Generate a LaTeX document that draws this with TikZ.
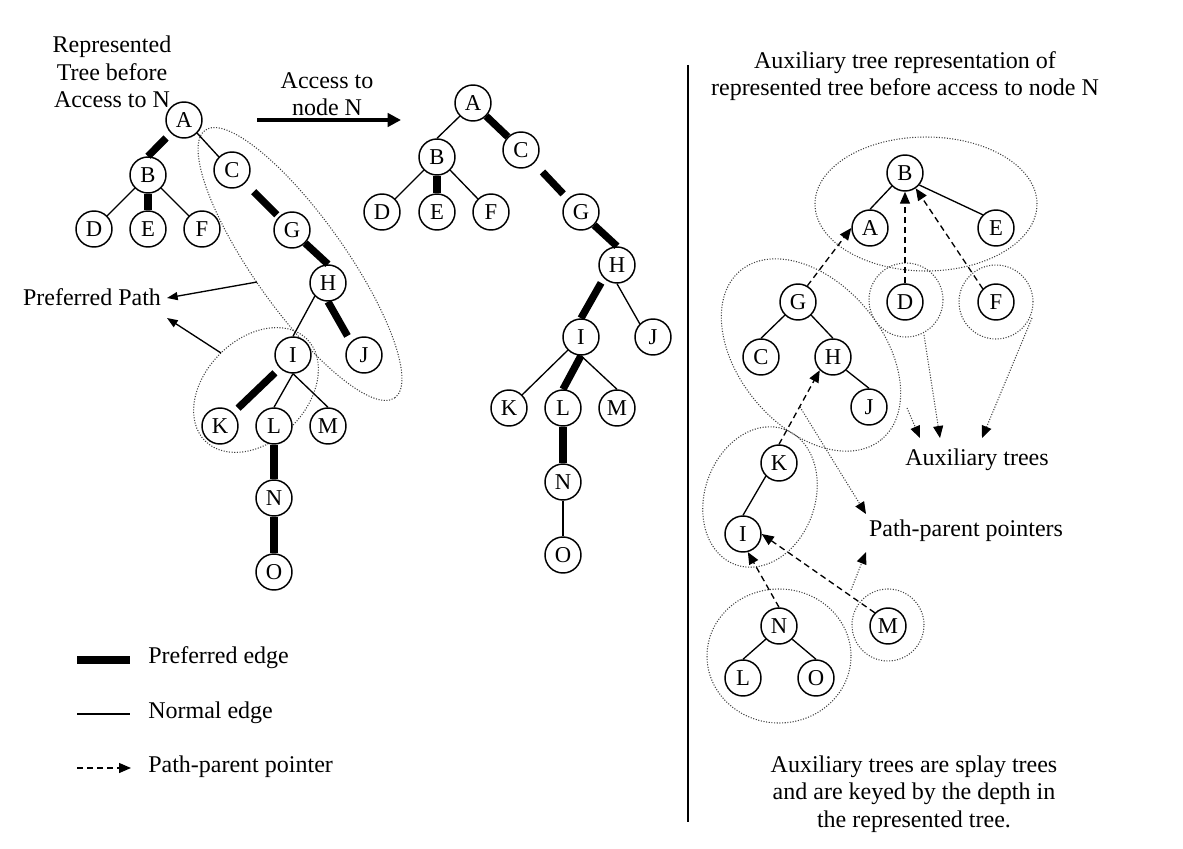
\documentclass[tikz,border=0pt]{standalone}
\usepackage{fontspec}
\setmainfont{Liberation Serif}
\usetikzlibrary{arrows.meta,shapes.geometric}
\begin{document}
\begin{tikzpicture}[x=0.75pt,y=-0.75pt,
  tn/.style={circle,draw,fill=white,line width=1.1pt,minimum size=27pt,inner sep=0pt,font=\fontsize{17}{20}\selectfont},
  thinedge/.style={line width=1pt},
  pref/.style={line width=5.5pt},
  ptr/.style={dash pattern=on 4.5pt off 3pt,line width=1pt,-{Triangle[length=9pt,width=7.5pt]}},
  grp/.style={draw=black!75,line width=0.8pt,dash pattern=on 0.8pt off 1.2pt,inner sep=0pt},
  grpe/.style={grp,ellipse},
  grpc/.style={grp,circle},
  notearrow/.style={draw=black!75,line width=0.8pt,dash pattern=on 0.8pt off 1.2pt,-{Triangle[length=9pt,width=7.5pt,color=black]}},
  lbl/.style={font=\fontsize{18}{20.7}\selectfont,align=center,inner sep=0pt},
]
\useasboundingbox (0,0) rectangle (1183,849);

% ---------- group ellipses ----------
\node[grpe,minimum width=246pt,minimum height=69pt,rotate=-54.7] (e1) at (300,264) {};
\node[grpe,minimum width=108pt,minimum height=76.5pt,rotate=45] (e2) at (256,390) {};
\node[grpe,minimum width=166.5pt,minimum height=100.5pt] (eB) at (926,204) {};
\node[grpe,minimum width=165pt,minimum height=108pt,rotate=-50] (eG) at (811,355) {};
\node[grpc,minimum size=55.5pt] (eD) at (906,300) {};
\node[grpc,minimum size=55.5pt] (eF) at (996,302) {};
\node[grpe,minimum width=108pt,minimum height=82.5pt,rotate=70] (eK) at (760,497) {};
\node[grpe,minimum width=108pt,minimum height=100.5pt] (eN) at (779,656) {};
\node[grpc,minimum size=54pt] (eM) at (888,625) {};

% ---------- left tree ----------
\node[tn] (lA) at (184,120) {A};
\node[tn] (lB) at (148,175) {B};
\node[tn] (lC) at (232,170) {C};
\node[tn] (lD) at (94,229) {D};
\node[tn] (lE) at (148,229) {E};
\node[tn] (lF) at (202,229) {F};
\node[tn] (lG) at (292,230) {G};
\node[tn] (lH) at (328,283) {H};
\node[tn] (lI) at (293,355) {I};
\node[tn] (lJ) at (364,355) {J};
\node[tn] (lK) at (220,426) {K};
\node[tn] (lL) at (274,426) {L};
\node[tn] (lM) at (328,426) {M};
\node[tn] (lN) at (274,498) {N};
\node[tn] (lO) at (274,572) {O};

\draw[pref,shorten <=5pt] (lA.south west) -- (lB.north);
\draw[thinedge] (lA.south east) -- (lC.north west);
\draw[thinedge] (lB.south west) -- (lD.north east);
\draw[pref] (lB.south) -- (lE.north);
\draw[thinedge] (lB.south east) -- (lF.north west);
\draw[pref,shorten <=9pt,shorten >=2pt] (lC.south east) -- (lG.north west);
\draw[pref] (lG.south east) -- (lH.north);
\draw[thinedge] (lH.south west) -- (lI.north);
\draw[pref,shorten >=5pt] (lH.south) -- (lJ.north west);
\draw[pref,shorten <=5pt,shorten >=5pt] (lI.south west) -- (lK.north east);
\draw[thinedge] (lI.south) -- (lL.north);
\draw[thinedge] (lI.south) -- (lM.north);
\draw[pref] (lL.south) -- (lN.north);
\draw[pref] (lN.south) -- (lO.north);

% ---------- middle tree ----------
\node[tn] (mA) at (473,103) {A};
\node[tn] (mB) at (437,157) {B};
\node[tn] (mC) at (521,150) {C};
\node[tn] (mD) at (382,212) {D};
\node[tn] (mE) at (437,212) {E};
\node[tn] (mF) at (491,212) {F};
\node[tn] (mG) at (581,212) {G};
\node[tn] (mH) at (617,265) {H};
\node[tn] (mI) at (581,337) {I};
\node[tn] (mJ) at (653,337) {J};
\node[tn] (mK) at (509,408) {K};
\node[tn] (mL) at (563,408) {L};
\node[tn] (mM) at (617,408) {M};
\node[tn] (mN) at (563,482) {N};
\node[tn] (mO) at (563,555) {O};

\draw[thinedge] (mA.south west) -- (mB.north);
\draw[pref] (mA.south east) -- (mC.north west);
\draw[thinedge] (mB.south west) -- (mD.north east);
\draw[pref] (mB.south) -- (mE.north);
\draw[thinedge] (mB.south east) -- (mF.north west);
\draw[pref,shorten <=9pt,shorten >=5pt] (mC.south east) -- (mG.north west);
\draw[pref] (mG.south east) -- (mH.north);
\draw[pref,shorten <=4pt] (mH.south west) -- (mI.north);
\draw[thinedge] (mH.south) -- (mJ.north west);
\draw[thinedge] (mI.south west) -- (mK.north east);
\draw[pref] (mI.south) -- (mL.north);
\draw[thinedge] (mI.south) -- (mM.north);
\draw[pref] (mL.south) -- (mN.north);
\draw[thinedge] (mN.south) -- (mO.north);

% ---------- right auxiliary trees ----------
\node[tn] (rB) at (905,173) {B};
\node[tn] (rA) at (870,228) {A};
\node[tn] (rE) at (996,228) {E};
\node[tn] (rD) at (905,302) {D};
\node[tn] (rF) at (996,302) {F};
\node[tn] (rG) at (798,302) {G};
\node[tn] (rC) at (761,357) {C};
\node[tn] (rH) at (833,357) {H};
\node[tn] (rJ) at (869,407) {J};
\node[tn] (rK) at (779,463) {K};
\node[tn] (rI) at (743,534) {I};
\node[tn] (rN) at (779,626) {N};
\node[tn] (rL) at (743,678) {L};
\node[tn] (rO) at (816,678) {O};
\node[tn] (rM) at (888,626) {M};

\draw[thinedge] (rB.south west) -- (rA.north);
\draw[thinedge] (rE.north west) -- (rB.-40);
\draw[thinedge] (rG.south west) -- (rC.north);
\draw[thinedge] (rG.south east) -- (rH.north);
\draw[thinedge] (rH.south east) -- (rJ.north);
\draw[thinedge] (rK.south west) -- (rI.north);
\draw[thinedge] (rN.south west) -- (rL.north);
\draw[thinedge] (rN.south east) -- (rO.north);

\draw[ptr] (rG.60) -- (rA.west);
\draw[ptr] (rD.north) -- (rB.south);
\draw[ptr] (rF.north west) -- (rB.-55);
\draw[ptr] (rK.north) -- (rH.south west);
\draw[ptr] (rN.north) -- (rI.-75);
\draw[ptr] (rM.north west) -- (rI.east);

% ---------- labels ----------
\node[lbl] (ttl) at (112,72) {Represented\\Tree before\\Access to N};
\node[lbl] (acct) at (327,94) {Access to\\node N};
\coordinate (acc1) at (257,120);
\coordinate (acc2) at (401,120);
\draw[line width=3pt,-{Triangle[length=10pt,width=10pt]}] (acc1) -- (acc2);

\node[lbl] (pp) at (92,297) {Preferred Path};
\coordinate (pps1) at (257,282);
\coordinate (ppt1) at (167,298);
\coordinate (pps2) at (221,353);
\coordinate (ppt2) at (167,318);
\draw[thinedge,-{Triangle[length=8pt,width=6pt]}] (pps1) -- (ppt1);
\draw[thinedge,-{Triangle[length=8pt,width=6pt]}] (pps2) -- (ppt2);

\coordinate (v1) at (688,65);
\coordinate (v2) at (688,822);
\draw[line width=1pt] (v1) -- (v2);

\node[lbl] (rhead) at (905,76) {Auxiliary tree representation of\\represented tree before access to node N};

\node[lbl] (auxt) at (977,460) {Auxiliary trees};
\node[lbl] (ppp) at (966,531) {Path-parent pointers};
\coordinate (a1s) at (907,408);
\coordinate (a1e) at (920,438);
\coordinate (a2s) at (924,335);
\coordinate (a2e) at (940,438);
\coordinate (a3s) at (1032,318);
\coordinate (a3e) at (982,438);
\draw[notearrow] (a1s) -- (a1e);
\draw[notearrow] (a2s) -- (a2e);
\draw[notearrow] (a3s) -- (a3e);
\coordinate (p1s) at (800,407);
\coordinate (p1e) at (866,514);
\coordinate (p2s) at (851,590);
\coordinate (p2e) at (866,552);
\draw[notearrow] (p1s) -- (p1e);
\draw[notearrow] (p2s) -- (p2e);

\node[lbl] (foot) at (914,794) {Auxiliary trees are splay trees\\and are keyed by the depth in\\the represented tree.};

% ---------- legend ----------
\coordinate (g1a) at (77,660);
\coordinate (g1b) at (130,660);
\coordinate (g2a) at (77,714);
\coordinate (g2b) at (130,714);
\coordinate (g3a) at (77,768);
\coordinate (g3b) at (131,768);
\draw[line width=6.5pt] (g1a) -- (g1b);
\draw[thinedge] (g2a) -- (g2b);
\draw[ptr] (g3a) -- (g3b);
\node[lbl,anchor=west] (lg1) at (148,658) {Preferred edge};
\node[lbl,anchor=west] (lg2) at (148,713) {Normal edge};
\node[lbl,anchor=west] (lg3) at (148,767) {Path-parent pointer};
\end{tikzpicture}
\end{document}
